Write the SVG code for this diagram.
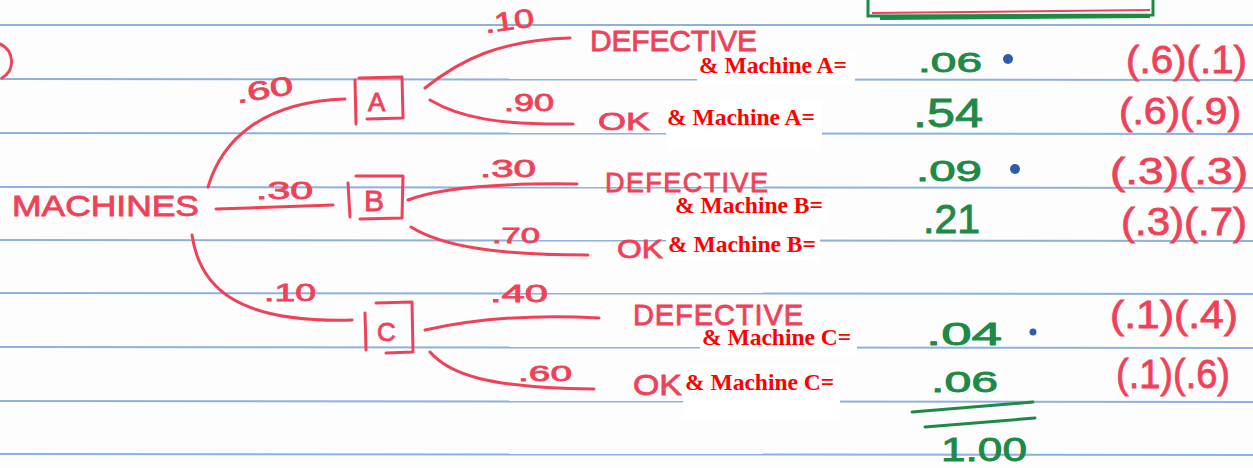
<svg xmlns="http://www.w3.org/2000/svg" width="1253" height="468" viewBox="0 0 1253 468">
<defs>
<style>
.rule{stroke:#8eb0dc;stroke-width:2;fill:none}
.ink{stroke:#ef4259;stroke-width:3;fill:none;stroke-linecap:round;stroke-linejoin:round}
.hw{font-family:"Liberation Sans",Arial,sans-serif;fill:#ef4259;stroke:#ef4259;stroke-width:0.8}
.gr{font-family:"Liberation Sans",Arial,sans-serif;fill:#1f8a47;stroke:#1f8a47;stroke-width:0.9}
.ov{font-family:"Liberation Serif","Times New Roman",serif;font-weight:bold;font-size:23.5px;fill:#ff0000}
.pad{fill:#ffffff}
.dot{fill:#2f5ba8}
</style>
</defs>
<rect width="1253" height="468" fill="#fdfdfd"/>
<g id="paper-rules">
<line class="rule" x1="0" y1="25" x2="1253" y2="25"/>
<line class="rule" x1="0" y1="79" x2="1253" y2="80"/>
<line class="rule" x1="0" y1="133" x2="1253" y2="134"/>
<line class="rule" x1="0" y1="187" x2="1253" y2="188"/>
<line class="rule" x1="0" y1="240" x2="1253" y2="241"/>
<line class="rule" x1="0" y1="293" x2="1253" y2="294"/>
<line class="rule" x1="0" y1="347" x2="1253" y2="348"/>
<line class="rule" x1="0" y1="401" x2="1253" y2="402"/>
<line class="rule" x1="0" y1="454" x2="1253" y2="455"/>
</g>
<g id="overlay-pads">
<rect class="pad" x="697" y="52" width="158" height="31"/>
<rect class="pad" x="666" y="100" width="156" height="50"/>
<rect class="pad" x="673" y="192" width="156" height="31"/>
<rect class="pad" x="666" y="228" width="154" height="34"/>
<rect class="pad" x="700" y="324" width="157" height="31"/>
<rect class="pad" x="683" y="366" width="157" height="54"/>
</g>
<g id="page-marks">
<path class="ink" d="M0,44 C14,50 16,70 2,78"/>
<path d="M868,0 L868,16 L1153,15 L1153,0" fill="none" stroke="#1f8a47" stroke-width="3"/>
<path d="M872,13 L1150,10" fill="none" stroke="#ef4259" stroke-width="2"/>
<path d="M880,18 L1150,16" fill="none" stroke="#1f8a47" stroke-width="4"/>
</g>
<g id="connectors">
<path class="ink" d="M208,187 C222,140 262,102 345,99"/>
<path class="ink" d="M216,209 L333,205"/>
<path class="ink" d="M192,235 C200,290 240,323 352,320"/>
<path class="ink" d="M425,88 C460,60 500,40 570,38"/>
<path class="ink" d="M430,100 C460,118 500,125 573,124"/>
<path class="ink" d="M408,200 C440,188 500,183 577,184"/>
<path class="ink" d="M411,227 C440,245 490,255 588,255"/>
<path class="ink" d="M425,330 C470,320 530,314 599,318"/>
<path class="ink" d="M430,352 C450,375 490,388 594,389"/>
<text class="hw" x="235" y="99" font-size="26" textLength="58" lengthAdjust="spacingAndGlyphs" transform="rotate(-10 262 88)">.60</text>
<text class="hw" x="256" y="199" font-size="24" textLength="57" lengthAdjust="spacingAndGlyphs">.30</text>
<text class="hw" x="264" y="301" font-size="24" textLength="52" lengthAdjust="spacingAndGlyphs">.10</text>
<text class="hw" x="484" y="30" font-size="26" textLength="50" lengthAdjust="spacingAndGlyphs" transform="rotate(-8 508 20)">.10</text>
<text class="hw" x="504" y="111" font-size="24" textLength="50" lengthAdjust="spacingAndGlyphs">.90</text>
<text class="hw" x="480" y="177" font-size="24" textLength="56" lengthAdjust="spacingAndGlyphs">.30</text>
<text class="hw" x="492" y="243" font-size="22" textLength="48" lengthAdjust="spacingAndGlyphs">.70</text>
<text class="hw" x="490" y="302" font-size="24" textLength="58" lengthAdjust="spacingAndGlyphs">.40</text>
<text class="hw" x="518" y="381" font-size="22" textLength="54" lengthAdjust="spacingAndGlyphs">.60</text>
</g>
<g id="node-machines">
<text class="hw" x="12" y="216" font-size="29" textLength="187" lengthAdjust="spacingAndGlyphs">MACHINES</text>
</g>
<g id="node-A">
<path class="ink" d="M355,80 L356,124 M359,78 L402,77 L403,118 L367,119"/>
<text class="hw" x="368" y="111" font-size="26">A</text>
</g>
<g id="node-B">
<path class="ink" d="M348,183 L350,217 M356,176 L403,176 L402,218 L360,219"/>
<text class="hw" x="364" y="211" font-size="30">B</text>
</g>
<g id="node-C">
<path class="ink" d="M365,313 L366,350 M376,303 L412,302 L413,352 L386,353"/>
<text class="hw" x="377" y="341" font-size="26">C</text>
</g>
<g id="outcome-A-defective">
<text class="hw" x="590" y="51" font-size="30" textLength="167">DEFECTIVE</text>
<text class="ov" x="699" y="73">&amp; Machine A=</text>
<text class="gr" x="918" y="72" font-size="28" textLength="64" lengthAdjust="spacingAndGlyphs">.06</text>
<circle class="dot" cx="1008" cy="59" r="5"/>
<text class="hw" x="1126" y="73" font-size="38" textLength="121" lengthAdjust="spacingAndGlyphs">(.6)(.1)</text>
</g>
<g id="outcome-A-ok">
<text class="hw" x="598" y="130" font-size="24" textLength="52" lengthAdjust="spacingAndGlyphs">OK</text>
<text class="ov" x="667" y="125">&amp; Machine A=</text>
<text class="gr" x="913" y="127" font-size="40" textLength="70" lengthAdjust="spacingAndGlyphs">.54</text>
<text class="hw" x="1119" y="124" font-size="36" textLength="122" lengthAdjust="spacingAndGlyphs">(.6)(.9)</text>
</g>
<g id="outcome-B-defective">
<text class="hw" x="605" y="192" font-size="27" textLength="163">DEFECTIVE</text>
<text class="ov" x="675" y="213">&amp; Machine B=</text>
<text class="gr" x="916" y="181" font-size="30" textLength="66" lengthAdjust="spacingAndGlyphs">.09</text>
<circle class="dot" cx="1015" cy="169" r="5"/>
<text class="hw" x="1110" y="184" font-size="36" textLength="138" lengthAdjust="spacingAndGlyphs">(.3)(.3)</text>
</g>
<g id="outcome-B-ok">
<text class="hw" x="617" y="258" font-size="26" textLength="46" lengthAdjust="spacingAndGlyphs">OK</text>
<text class="ov" x="668" y="252">&amp; Machine B=</text>
<text class="gr" x="923" y="233" font-size="40" textLength="57" lengthAdjust="spacingAndGlyphs">.21</text>
<text class="hw" x="1121" y="235" font-size="38" textLength="126" lengthAdjust="spacingAndGlyphs">(.3)(.7)</text>
</g>
<g id="outcome-C-defective">
<text class="hw" x="633" y="325" font-size="29" textLength="170">DEFECTIVE</text>
<text class="ov" x="702" y="345">&amp; Machine C=</text>
<text class="gr" x="926" y="345" font-size="32" textLength="76" lengthAdjust="spacingAndGlyphs">.04</text>
<circle class="dot" cx="1033" cy="332" r="3.5"/>
<text class="hw" x="1110" y="328" font-size="38" textLength="128" lengthAdjust="spacingAndGlyphs">(.1)(.4)</text>
</g>
<g id="outcome-C-ok">
<text class="hw" x="633" y="395" font-size="30" textLength="49" lengthAdjust="spacingAndGlyphs">OK</text>
<text class="ov" x="685" y="390">&amp; Machine C=</text>
<text class="gr" x="931" y="392" font-size="30" textLength="67" lengthAdjust="spacingAndGlyphs">.06</text>
<text class="hw" x="1116" y="388" font-size="40" textLength="114" lengthAdjust="spacingAndGlyphs">(.1)(.6)</text>
</g>
<g id="total">
<path d="M912,412 L1033,402 M925,427 L1035,418" fill="none" stroke="#1f8a47" stroke-width="3" stroke-linecap="round"/>
<text class="gr" x="941" y="461" font-size="33" textLength="86" lengthAdjust="spacingAndGlyphs">1.00</text>
</g>
</svg>
